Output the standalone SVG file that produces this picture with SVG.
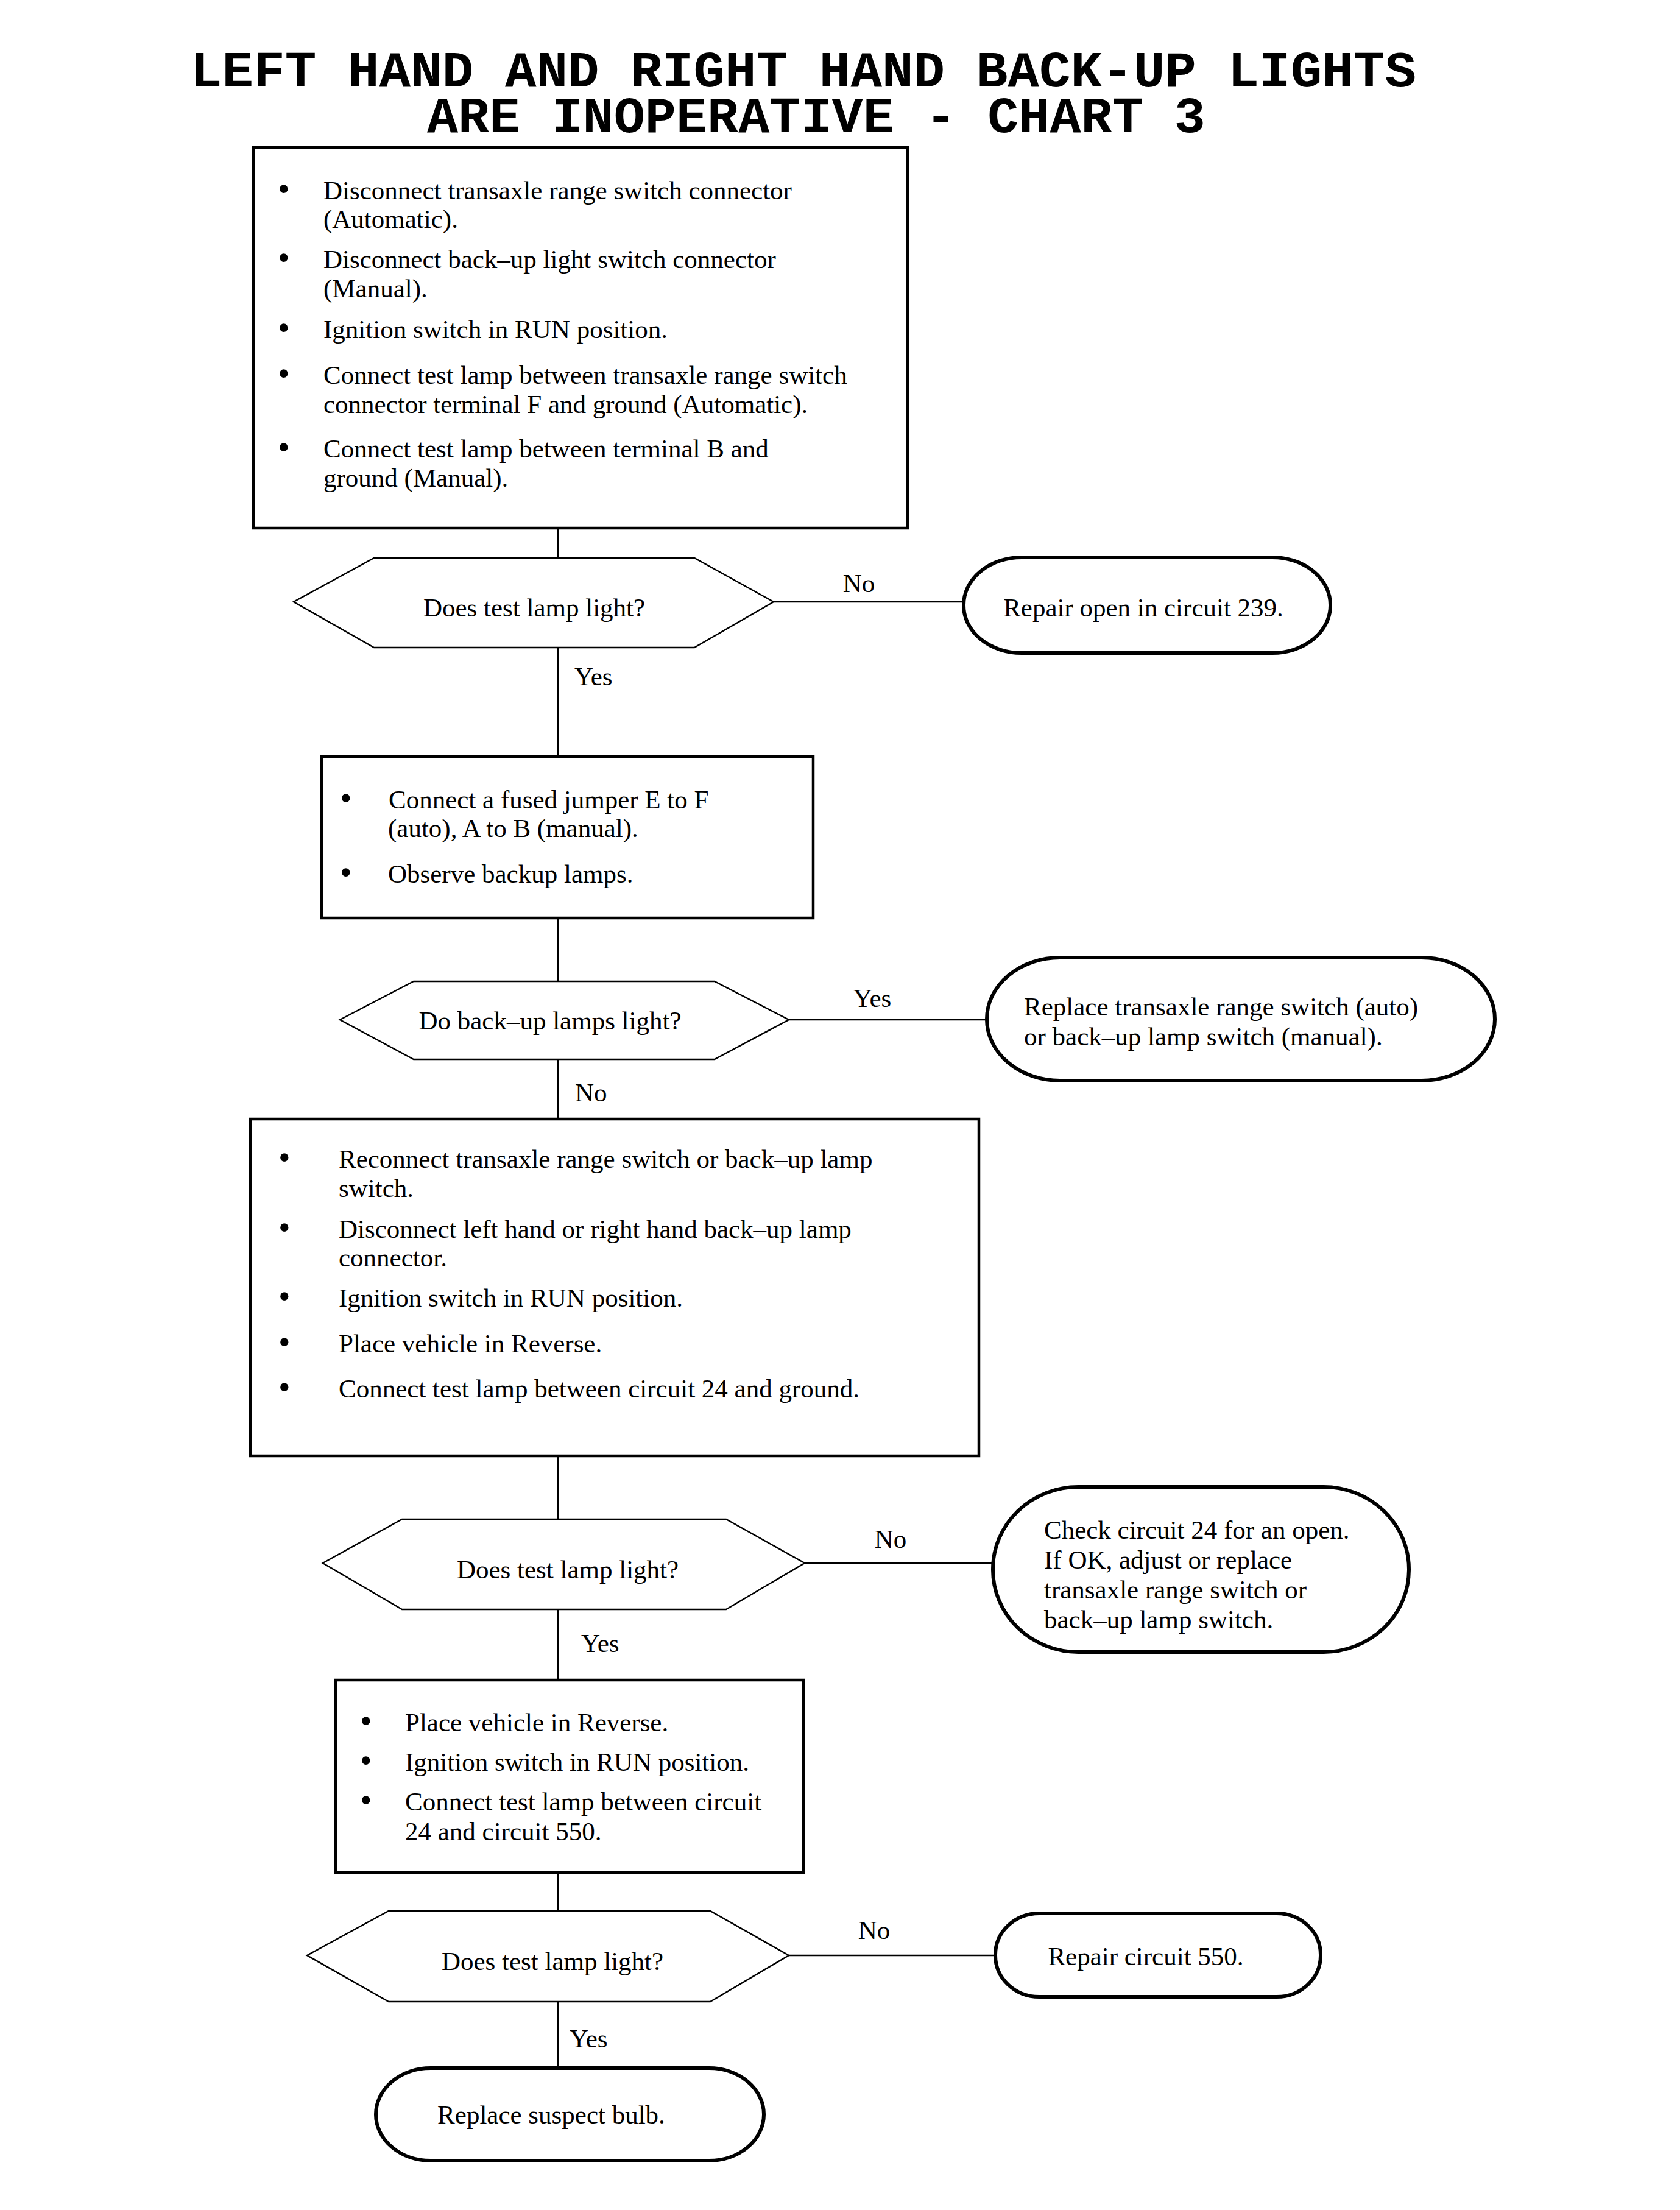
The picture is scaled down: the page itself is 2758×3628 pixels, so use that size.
<svg xmlns="http://www.w3.org/2000/svg" width="2758" height="3628" viewBox="0 0 2758 3628">
<style>
.title{font-family:"Liberation Mono","Courier New",monospace;font-weight:bold;font-size:84px;fill:#000}
.t{font-family:"Liberation Serif","Times New Roman",serif;font-size:43px;fill:#000}
.b{font-family:"Liberation Serif","Times New Roman",serif;font-size:56px;fill:#000}
.m{text-anchor:middle}
.box{fill:#fff;stroke:#000;stroke-width:4.5}
.hex{fill:#fff;stroke:#000;stroke-width:2.5}
.term{fill:#fff;stroke:#000;stroke-width:6}
.conn line{stroke:#000;stroke-width:2.5}
</style>
<rect width="2758" height="3628" fill="#fff"/>
<g id="title">
<text class="title" x="313" y="142" textLength="2012" lengthAdjust="spacingAndGlyphs">LEFT HAND AND RIGHT HAND BACK-UP LIGHTS</text>
<text class="title" x="701" y="217" textLength="1278" lengthAdjust="spacingAndGlyphs">ARE INOPERATIVE - CHART 3</text>
</g>
<g id="connectors" class="conn">
<line x1="916" y1="867" x2="916" y2="916"/>
<line x1="916" y1="1063" x2="916" y2="1242"/>
<line x1="916" y1="1507" x2="916" y2="1611"/>
<line x1="916" y1="1739" x2="916" y2="1837"/>
<line x1="916" y1="2390" x2="916" y2="2494"/>
<line x1="916" y1="2642" x2="916" y2="2758"/>
<line x1="916" y1="3074" x2="916" y2="3137"/>
<line x1="916" y1="3286" x2="916" y2="3395"/>
<line x1="1270" y1="988" x2="1582" y2="988"/>
<line x1="1295" y1="1674" x2="1620" y2="1674"/>
<line x1="1321" y1="2566" x2="1630" y2="2566"/>
<line x1="1295" y1="3210" x2="1634" y2="3210"/>
</g>
<g id="edge-labels">
<text class="t m" x="1410" y="972">No</text>
<text class="t" x="943" y="1125">Yes</text>
<text class="t m" x="1432" y="1653">Yes</text>
<text class="t" x="944" y="1808">No</text>
<text class="t m" x="1462" y="2541">No</text>
<text class="t" x="954" y="2712">Yes</text>
<text class="t m" x="1435" y="3183">No</text>
<text class="t" x="935" y="3361">Yes</text>
</g>
<g id="box1">
<rect class="box" x="416" y="242" width="1074" height="625"/>
<text class="b" x="456" y="329">•</text><text class="t" x="531" y="327">Disconnect transaxle range switch connector</text>
<text class="t" x="531" y="374">(Automatic).</text>
<text class="b" x="456" y="442">•</text><text class="t" x="531" y="440">Disconnect back–up light switch connector</text>
<text class="t" x="531" y="488">(Manual).</text>
<text class="b" x="456" y="557">•</text><text class="t" x="531" y="555">Ignition switch in RUN position.</text>
<text class="b" x="456" y="632">•</text><text class="t" x="531" y="630">Connect test lamp between transaxle range switch</text>
<text class="t" x="531" y="678">connector terminal F and ground (Automatic).</text>
<text class="b" x="456" y="753">•</text><text class="t" x="531" y="751">Connect test lamp between terminal B and</text>
<text class="t" x="531" y="799">ground (Manual).</text>
</g>
<g id="dec1">
<polygon class="hex" points="482,988 614,916 1140,916 1270,988 1140,1063 614,1063"/>
<text class="t m" x="877" y="1012">Does test lamp light?</text>
</g>
<g id="end1">
<rect class="term" x="1582" y="915" width="602" height="157" rx="95" ry="78"/>
<text class="t m" x="1877" y="1012">Repair open in circuit 239.</text>
</g>
<g id="box2">
<rect class="box" x="528" y="1242" width="807" height="265"/>
<text class="b" x="558" y="1329">•</text><text class="t" x="638" y="1327"> Connect a fused jumper E to F</text>
<text class="t" x="637" y="1374">(auto), A to B (manual).</text>
<text class="b" x="558" y="1451">•</text><text class="t" x="637" y="1449">Observe backup lamps.</text>
</g>
<g id="dec2">
<polygon class="hex" points="558,1674 679,1611 1173,1611 1295,1674 1173,1739 679,1739"/>
<text class="t m" x="903" y="1690">Do back–up lamps light?</text>
</g>
<g id="end2">
<rect class="term" x="1620" y="1572" width="834" height="202" rx="120" ry="101"/>
<text class="t" x="1681" y="1667">Replace transaxle range switch (auto)</text>
<text class="t" x="1681" y="1716">or back–up lamp switch (manual).</text>
</g>
<g id="box3">
<rect class="box" x="411" y="1837" width="1196" height="553"/>
<text class="b" x="457" y="1919">•</text><text class="t" x="556" y="1917">Reconnect transaxle range switch or back–up lamp</text>
<text class="t" x="556" y="1965">switch.</text>
<text class="b" x="457" y="2034">•</text><text class="t" x="556" y="2032">Disconnect left hand or right hand back–up lamp</text>
<text class="t" x="556" y="2079">connector.</text>
<text class="b" x="457" y="2147">•</text><text class="t" x="556" y="2145">Ignition switch in RUN position.</text>
<text class="b" x="457" y="2222">•</text><text class="t" x="556" y="2220">Place vehicle in Reverse.</text>
<text class="b" x="457" y="2296">•</text><text class="t" x="556" y="2294">Connect test lamp between circuit 24 and ground.</text>
</g>
<g id="dec3">
<polygon class="hex" points="530,2566 660,2494 1192,2494 1321,2566 1192,2642 660,2642"/>
<text class="t m" x="932" y="2591">Does test lamp light?</text>
</g>
<g id="end3">
<rect class="term" x="1630" y="2441" width="683" height="271" rx="140" ry="135"/>
<text class="t" x="1714" y="2526">Check circuit 24 for an open.</text>
<text class="t" x="1714" y="2575">If OK, adjust or replace</text>
<text class="t" x="1714" y="2624">transaxle range switch or</text>
<text class="t" x="1714" y="2673">back–up lamp switch.</text>
</g>
<g id="box4">
<rect class="box" x="551" y="2758" width="768" height="316"/>
<text class="b" x="591" y="2844">•</text><text class="t" x="665" y="2842">Place vehicle in Reverse.</text>
<text class="b" x="591" y="2909">•</text><text class="t" x="665" y="2907">Ignition switch in RUN position.</text>
<text class="b" x="591" y="2974">•</text><text class="t" x="665" y="2972">Connect test lamp between circuit</text>
<text class="t" x="665" y="3021">24 and circuit 550.</text>
</g>
<g id="dec4">
<polygon class="hex" points="504,3210 638,3137 1166,3137 1295,3210 1166,3286 638,3286"/>
<text class="t m" x="907" y="3234">Does test lamp light?</text>
</g>
<g id="end4">
<rect class="term" x="1634" y="3141" width="534" height="137" rx="72" ry="68"/>
<text class="t m" x="1881" y="3226">Repair circuit 550.</text>
</g>
<g id="end5">
<rect class="term" x="617" y="3395" width="637" height="152" rx="90" ry="76"/>
<text class="t m" x="905" y="3486">Replace suspect bulb.</text>
</g>
</svg>
